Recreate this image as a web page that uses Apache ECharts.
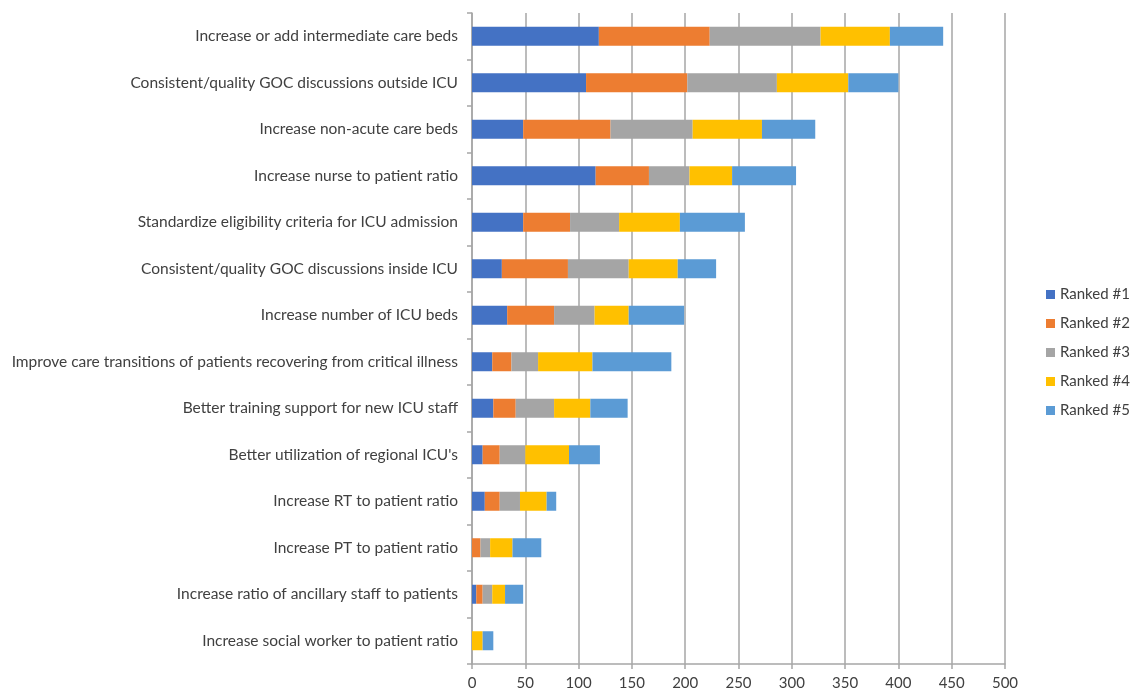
<!DOCTYPE html>
<html><head><meta charset="utf-8">
<script src="https://cdn.jsdelivr.net/npm/echarts@6/dist/echarts.min.js"></script>
<style>html,body{margin:0;padding:0;background:#fff}#c{width:1141px;height:696px}</style>
</head><body><div id="c"></div>
<script>
var categories = [
  "Increase or add intermediate care beds",
  "Consistent/quality GOC discussions outside ICU",
  "Increase non-acute care beds",
  "Increase nurse to patient ratio",
  "Standardize eligibility criteria for ICU admission",
  "Consistent/quality GOC discussions inside ICU",
  "Increase number of ICU beds",
  "Improve care transitions of patients recovering from critical illness",
  "Better training support for new ICU staff",
  "Better utilization of regional ICU's",
  "Increase RT to patient ratio",
  "Increase PT to patient ratio",
  "Increase ratio of ancillary staff to patients",
  "Increase social worker to patient ratio"
];
var ranked1 = [119, 107, 48, 116, 48, 28, 33, 19, 20, 10, 12, 0, 4, 0];
var ranked2 = [104, 95, 82, 50, 44, 62, 44, 18, 21, 16, 14, 8, 6, 0];
var ranked3 = [104, 84, 77, 38, 46, 57, 38, 25, 36, 24, 19, 9, 9, 0];
var ranked4 = [65, 67, 65, 40, 57, 46, 32, 51, 34, 41, 25, 21, 12, 10];
var ranked5 = [50, 47, 50, 60, 61, 36, 52, 74, 35, 29, 9, 27, 17, 10];
var seriesNames = ["Ranked #1", "Ranked #2", "Ranked #3", "Ranked #4", "Ranked #5"];
var colors = ["#4472C4", "#ED7D31", "#A5A5A5", "#FFC000", "#5B9BD5"];
var xTicks = {min: 0, max: 500, interval: 50};

var dataSets = [ranked1, ranked2, ranked3, ranked4, ranked5];
var FONT = "Lato";
var chart = echarts.init(document.getElementById('c'), null, {renderer: 'canvas'});
chart.setOption({
  animation: false,
  color: colors,
  textStyle: {fontFamily: FONT},
  grid: {left: 472, right: 136, top: 13, bottom: 32, containLabel: false},
  legend: {
    orient: 'vertical', left: 1041, top: 282,
    itemWidth: 9, itemHeight: 9, itemGap: 14, icon: 'rect',
    textStyle: {fontFamily: FONT, fontSize: 15, color: '#404040'},
    data: seriesNames
  },
  xAxis: {
    type: 'value', min: xTicks.min, max: xTicks.max, interval: xTicks.interval,
    axisLine: {show: true, lineStyle: {color: '#a6a6a6', width: 1.5}},
    axisTick: {show: true, length: 5, lineStyle: {color: '#a6a6a6', width: 1.5}},
    axisLabel: {fontFamily: FONT, fontSize: 15, color: '#404040', margin: 12},
    splitLine: {show: true, lineStyle: {color: '#a6a6a6', width: 1.5}}
  },
  yAxis: {
    type: 'category', inverse: true, data: categories,
    axisLine: {show: true, lineStyle: {color: '#a6a6a6', width: 1.5}},
    axisTick: {show: true, length: 5, lineStyle: {color: '#a6a6a6', width: 1.5}},
    axisLabel: {fontFamily: FONT, fontSize: 15.5, color: '#404040', margin: 14}
  },
  series: seriesNames.map(function (n, i) {
    return {
      name: n, type: 'bar', stack: 'total', data: dataSets[i],
      barWidth: 19,
      itemStyle: {color: colors[i]}
    };
  })
});
</script></body></html>
